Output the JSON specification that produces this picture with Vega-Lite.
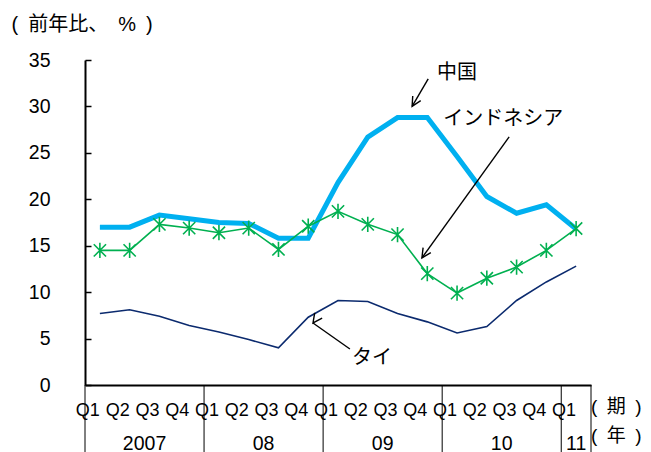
{
  "$schema": "https://vega.github.io/schema/vega-lite/v6.json",
  "width": 506,
  "height": 325,
  "autosize": {"type": "none"},
  "padding": {"left": 85, "top": 60, "right": 60, "bottom": 67},
  "background": "white",
  "config": {"view": {"stroke": null}, "font": "Liberation Sans", "axis": {"grid": false}},
  "datasets": {
    "growth": [
      {"q": "2007 Q1", "yr": "2007", "china": 17.0, "indonesia": 14.5, "thai": 7.7},
      {"q": "2007 Q2", "yr": "2007", "china": 17.0, "indonesia": 14.5, "thai": 8.1},
      {"q": "2007 Q3", "yr": "2007", "china": 18.3, "indonesia": 17.3, "thai": 7.4},
      {"q": "2007 Q4", "yr": "2007", "china": 17.9, "indonesia": 16.9, "thai": 6.4},
      {"q": "2008 Q1", "yr": "08", "china": 17.5, "indonesia": 16.4, "thai": 5.7},
      {"q": "2008 Q2", "yr": "08", "china": 17.4, "indonesia": 16.9, "thai": 4.9},
      {"q": "2008 Q3", "yr": "08", "china": 15.8, "indonesia": 14.6, "thai": 4.0},
      {"q": "2008 Q4", "yr": "08", "china": 15.8, "indonesia": 17.1, "thai": 7.3},
      {"q": "2009 Q1", "yr": "09", "china": 21.8, "indonesia": 18.7, "thai": 9.1},
      {"q": "2009 Q2", "yr": "09", "china": 26.7, "indonesia": 17.3, "thai": 9.0},
      {"q": "2009 Q3", "yr": "09", "china": 28.8, "indonesia": 16.2, "thai": 7.7},
      {"q": "2009 Q4", "yr": "09", "china": 28.8, "indonesia": 12.0, "thai": 6.8},
      {"q": "2010 Q1", "yr": "10", "china": 24.6, "indonesia": 9.9, "thai": 5.6},
      {"q": "2010 Q2", "yr": "10", "china": 20.3, "indonesia": 11.5, "thai": 6.3},
      {"q": "2010 Q3", "yr": "10", "china": 18.5, "indonesia": 12.7, "thai": 9.1},
      {"q": "2010 Q4", "yr": "10", "china": 19.4, "indonesia": 14.5, "thai": 11.1},
      {"q": "2011 Q1", "yr": "11", "china": 16.8, "indonesia": 16.85, "thai": 12.8}
    ],
    "notes": [
      {"kind": "series", "text": "中国", "ax": 12.5, "ay": 33.6},
      {"kind": "series", "text": "インドネシア", "ax": 14.05, "ay": 28.66},
      {"kind": "series", "text": "タイ", "ax": 9.64, "ay": 2.91},
      {"kind": "unit", "text": "(\u2002期\u2002)", "ax": 17.0, "ay": -2.37},
      {"kind": "unit", "text": "(\u2002年\u2002)", "ax": 17.0, "ay": -5.5}
    ],
    "arrows": [
      {"name": "中国", "x1": 11.53, "y1": 32.97, "x2": 10.99, "y2": 30.01},
      {"name": "インドネシア", "x1": 14.25, "y1": 26.72, "x2": 11.32, "y2": 13.69},
      {"name": "タイ", "x1": 8.9, "y1": 3.88, "x2": 7.66, "y2": 6.68}
    ]
  },
  "resolve": {"scale": {"x": "independent"}},
  "layer": [
    {
      "data": {"name": "growth"},
      "layer": [
        {
          "mark": {"type": "rule", "color": "black", "strokeWidth": 1},
          "transform": [{"filter": "slice(datum.q, 5) == 'Q1'"}],
          "encoding": {
            "x": {"field": "q", "type": "ordinal", "bandPosition": 0},
            "y": {"datum": 0, "type": "quantitative"},
            "y2": {"datum": -9}
          }
        },
        {
          "mark": {"type": "rule", "color": "black", "strokeWidth": 1},
          "transform": [{"filter": "datum.q == '2011 Q1'"}],
          "encoding": {
            "x": {"field": "q", "type": "ordinal", "bandPosition": 1},
            "y": {"datum": 0, "type": "quantitative"},
            "y2": {"datum": -9}
          }
        },
        {
          "mark": {"type": "line", "color": "#00B0F0", "strokeWidth": 5, "strokeJoin": "miter"},
          "encoding": {
            "x": {
              "field": "q", "type": "ordinal", "bandPosition": 0.5,
              "scale": {"type": "band", "paddingInner": 0, "paddingOuter": 0},
              "axis": {
                "title": null, "labelExpr": "slice(datum.value, 5)", "ticks": false,
                "domainColor": "black", "domainWidth": 2, "labelAngle": 0,
                "labelFont": "Liberation Sans Narrow, Liberation Sans", "labelFontSize": 18,
                "labelColor": "black", "labelPadding": 25
              }
            },
            "y": {
              "field": "china", "type": "quantitative",
              "scale": {"domain": [0, 35], "nice": false, "zero": false},
              "axis": {
                "title": "(\u2002前年比、\u2002%\u2002)", "titleAngle": 0, "titleAlign": "left", "titleBaseline": "middle",
                "titleX": -74, "titleY": -36, "titleFont": "Liberation Sans, Noto Sans CJK JP", "titleFontSize": 20,
                "titleFontWeight": "normal", "titleColor": "black",
                "values": [0, 5, 10, 15, 20, 25, 30, 35],
                "domainColor": "black", "domainWidth": 2, "tickColor": "black", "tickWidth": 1.5,
                "tickSize": -6, "labelFont": "Liberation Sans", "labelFontSize": 19.5,
                "labelColor": "black", "labelPadding": 41
              }
            }
          }
        },
        {
          "mark": {"type": "line", "color": "#00B050", "strokeWidth": 1.6},
          "encoding": {
            "x": {"field": "q", "type": "ordinal", "bandPosition": 0.5},
            "y": {"field": "indonesia", "type": "quantitative"}
          }
        },
        {
          "mark": {
            "type": "point", "shape": "M-1,-1L1,1M-1,1L1,-1M0,-1.25L0,1.25",
            "filled": false, "color": "#00B050", "strokeWidth": 1.6, "size": 150, "opacity": 1
          },
          "encoding": {
            "x": {"field": "q", "type": "ordinal", "bandPosition": 0.5},
            "y": {"field": "indonesia", "type": "quantitative"}
          }
        },
        {
          "mark": {"type": "line", "color": "#0B2A6E", "strokeWidth": 1.6},
          "encoding": {
            "x": {"field": "q", "type": "ordinal", "bandPosition": 0.5},
            "y": {"field": "thai", "type": "quantitative"}
          }
        },
        {
          "mark": {"type": "text", "font": "Liberation Sans", "fontSize": 19.5, "color": "black", "baseline": "middle"},
          "transform": [{"filter": "slice(datum.q, 5) == 'Q3'"}],
          "encoding": {
            "x": {"field": "q", "type": "ordinal", "bandPosition": 0},
            "y": {"datum": -6.4, "type": "quantitative"},
            "text": {"field": "yr"}
          }
        },
        {
          "mark": {"type": "text", "font": "Liberation Sans", "fontSize": 19.5, "color": "black", "baseline": "middle"},
          "transform": [{"filter": "datum.q == '2011 Q1'"}],
          "encoding": {
            "x": {"field": "q", "type": "ordinal", "bandPosition": 0.5},
            "y": {"datum": -6.4, "type": "quantitative"},
            "text": {"field": "yr"}
          }
        }
      ]
    },
    {
      "layer": [
        {
          "data": {"name": "arrows"},
          "mark": {"type": "rule", "color": "black", "strokeWidth": 1.4},
          "encoding": {
            "x": {"field": "x1", "type": "quantitative", "scale": {"domain": [0, 17], "nice": false, "zero": false}, "axis": null},
            "y": {"field": "y1", "type": "quantitative"},
            "x2": {"field": "x2"},
            "y2": {"field": "y2"}
          }
        },
        {
          "data": {"name": "arrows"},
          "mark": {"type": "point", "shape": "M-0.5,1L0,0L0.5,1", "filled": false, "color": "black", "strokeWidth": 1.4, "size": 340, "opacity": 1},
          "encoding": {
            "x": {"field": "x2", "type": "quantitative", "axis": null},
            "y": {"field": "y2", "type": "quantitative"},
            "angle": {
              "field": "name", "type": "nominal", "legend": null,
              "scale": {"domain": ["中国", "インドネシア", "タイ"], "range": [210, 216, 305]}
            }
          }
        },
        {
          "data": {"name": "notes"},
          "transform": [{"filter": "datum.kind == 'series'"}],
          "mark": {"type": "text", "font": "Noto Sans CJK JP", "fontSize": 20, "color": "black", "align": "center", "baseline": "middle"},
          "encoding": {
            "x": {"field": "ax", "type": "quantitative", "axis": null},
            "y": {"field": "ay", "type": "quantitative"},
            "text": {"field": "text"}
          }
        },
        {
          "data": {"name": "notes"},
          "transform": [{"filter": "datum.kind == 'unit'"}],
          "mark": {"type": "text", "font": "Liberation Sans, Noto Sans CJK JP", "fontSize": 19, "color": "black", "align": "left", "baseline": "middle"},
          "encoding": {
            "x": {"field": "ax", "type": "quantitative", "axis": null},
            "y": {"field": "ay", "type": "quantitative"},
            "text": {"field": "text"}
          }
        }
      ]
    }
  ]
}
